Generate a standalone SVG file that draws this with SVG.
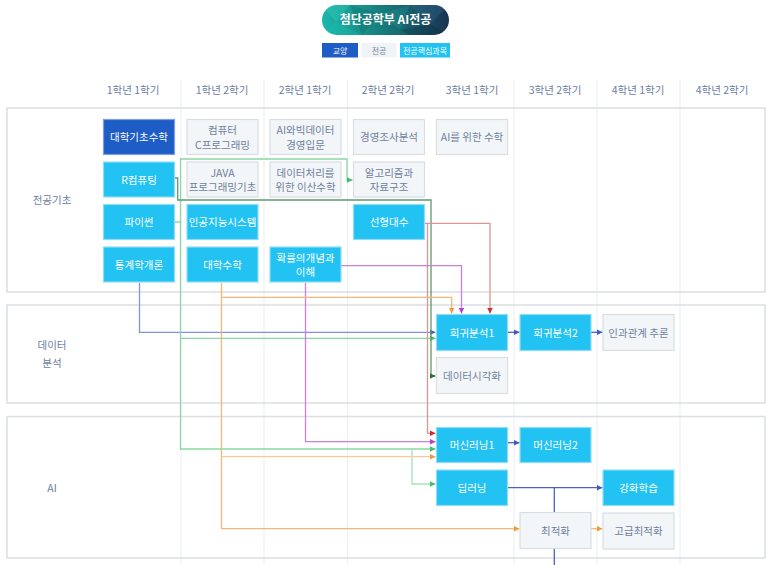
<svg xmlns="http://www.w3.org/2000/svg" width="773" height="565" viewBox="0 0 773 565">
<style>
text{font-family:"Noto Sans CJK KR","Noto Sans",sans-serif;}
.hd{font-size:10.5px;fill:#6c7da6;text-anchor:middle;}
.sec{fill:none;stroke:#dadfe2;stroke-width:1.5;}
.sl{font-size:10.5px;fill:#6c7da6;text-anchor:middle;}
.grid{stroke:#eef0f2;stroke-width:1.2;}
.lt rect{fill:#f3f6f8;stroke:#d9dee3;stroke-width:1.2;}
.lt text{fill:#6f7f9f;font-size:10.5px;text-anchor:middle;}
.cy rect{fill:#22c2f3;stroke:#8fdcf5;stroke-width:1.2;}
.cy text{fill:#fff;font-size:10.5px;text-anchor:middle;}
.db rect{fill:#1e5cc6;stroke:#7d9ee0;stroke-width:1.2;}
.db text{fill:#fff;font-size:10.5px;text-anchor:middle;}
.c{fill:none;stroke-width:1.3;}
</style>
<defs>
<linearGradient id="tg" x1="0" y1="0" x2="1" y2="0">
<stop offset="0" stop-color="#1db7ab"/>
<stop offset="0.45" stop-color="#17807f"/>
<stop offset="1" stop-color="#1b3452"/>
</linearGradient>
<clipPath id="tc"><rect x="322" y="5" width="127" height="30" rx="15"/></clipPath>
<marker id="mBlue" viewBox="0 0 6 6" refX="6" refY="3" markerWidth="6" markerHeight="6" markerUnits="userSpaceOnUse" orient="auto"><path d="M0,0L6,3L0,6z" fill="#3f5bbf"/></marker>
<marker id="mGreen" viewBox="0 0 6 6" refX="6" refY="3" markerWidth="6" markerHeight="6" markerUnits="userSpaceOnUse" orient="auto"><path d="M0,0L6,3L0,6z" fill="#3fbf68"/></marker>
<marker id="mDGreen" viewBox="0 0 6 6" refX="6" refY="3" markerWidth="6" markerHeight="6" markerUnits="userSpaceOnUse" orient="auto"><path d="M0,0L6,3L0,6z" fill="#2f6b3d"/></marker>
<marker id="mRed" viewBox="0 0 6 6" refX="6" refY="3" markerWidth="6" markerHeight="6" markerUnits="userSpaceOnUse" orient="auto"><path d="M0,0L6,3L0,6z" fill="#c8302f"/></marker>
<marker id="mPurple" viewBox="0 0 6 6" refX="6" refY="3" markerWidth="6" markerHeight="6" markerUnits="userSpaceOnUse" orient="auto"><path d="M0,0L6,3L0,6z" fill="#b43fc9"/></marker>
<marker id="mOrange" viewBox="0 0 6 6" refX="6" refY="3" markerWidth="6" markerHeight="6" markerUnits="userSpaceOnUse" orient="auto"><path d="M0,0L6,3L0,6z" fill="#f09a3a"/></marker>
</defs>
<rect width="773" height="565" fill="#fff"/>

<g id="title">
<rect x="322" y="5" width="127" height="30" rx="15" fill="url(#tg)"/>
<g clip-path="url(#tc)" opacity="0.25">
<polygon points="322,5 350,5 336,22" fill="#3fe0c8"/>
<polygon points="350,5 380,14 362,35" fill="#0d5a60"/>
<polygon points="380,14 410,5 400,30" fill="#2aa0a0"/>
<polygon points="410,5 449,5 430,24" fill="#3a6fa8"/>
<polygon points="400,30 430,24 449,35 410,35" fill="#0a2038"/>
<polygon points="336,22 362,35 322,35" fill="#19d0b8"/>
</g>
<text x="385.5" y="24" font-size="12" font-weight="bold" fill="#fff" text-anchor="middle">첨단공학부 AI전공</text>
</g>

<g id="legend">
<rect x="322" y="43" width="36" height="14.5" fill="#1e5cc6"/>
<text x="340" y="53.5" font-size="8" fill="#fff" text-anchor="middle">교양</text>
<rect x="361.5" y="43" width="35" height="14.5" fill="#f1f4f7"/>
<text x="379" y="53.5" font-size="8" fill="#6f7f9f" text-anchor="middle">전공</text>
<rect x="400" y="43" width="50" height="14.5" fill="#22c2f3"/>
<text x="425" y="53.5" font-size="8" fill="#fff" text-anchor="middle">전공핵심과목</text>
</g>

<g id="grid">
<line class="grid" x1="181" y1="80" x2="181" y2="565"/>
<line class="grid" x1="264" y1="80" x2="264" y2="565"/>
<line class="grid" x1="347.5" y1="80" x2="347.5" y2="565"/>
<line class="grid" x1="514" y1="80" x2="514" y2="565"/>
<line class="grid" x1="597" y1="80" x2="597" y2="565"/>
<line class="grid" x1="680" y1="80" x2="680" y2="565"/>
</g>

<g id="headers">
<text class="hd" x="133" y="94">1학년 1학기</text>
<text class="hd" x="222" y="94">1학년 2학기</text>
<text class="hd" x="305" y="94">2학년 1학기</text>
<text class="hd" x="388" y="94">2학년 2학기</text>
<text class="hd" x="472" y="94">3학년 1학기</text>
<text class="hd" x="555" y="94">3학년 2학기</text>
<text class="hd" x="638" y="94">4학년 1학기</text>
<text class="hd" x="722" y="94">4학년 2학기</text>
</g>

<g id="sections">
<rect class="sec" x="7" y="108" width="758" height="184"/>
<rect class="sec" x="7" y="305" width="758" height="98"/>
<rect class="sec" x="7" y="416.5" width="758" height="141.5"/>
<text class="sl" x="52" y="204">전공기초</text>
<text class="sl" x="52" y="349">데이터</text>
<text class="sl" x="52" y="367">분석</text>
<text class="sl" x="52" y="492">AI</text>
</g>

<g id="connectors">
<path class="c" stroke="#7f95d8" d="M139.5,283V332.3H435.5" marker-end="url(#mBlue)"/>
<path class="c" stroke="#8ad8a3" d="M174,222H180.5V159H347V180H352.5" marker-end="url(#mGreen)"/>
<path class="c" stroke="#8ad8a3" d="M180.5,222V449H435.5" marker-end="url(#mGreen)"/>
<path class="c" stroke="#8ad8a3" d="M180.5,338.3H435.5" marker-end="url(#mGreen)"/>
<path class="c" stroke="#a6e2b8" d="M412,449V484H435.5" marker-end="url(#mGreen)"/>
<path class="c" stroke="#5f9870" d="M174,178H177.7V200H431V376H435.5" marker-end="url(#mDGreen)"/>
<path class="c" stroke="#dc9494" d="M424,223.3H490V313.5" marker-end="url(#mRed)"/>
<path class="c" stroke="#dc9494" d="M427.5,223.3V433.3H435.5" marker-end="url(#mRed)"/>
<path class="c" stroke="#c880da" d="M341,265.7H461.5V313.5" marker-end="url(#mPurple)"/>
<path class="c" stroke="#c880da" d="M305.5,283V441.7H435.5" marker-end="url(#mPurple)"/>
<path class="c" stroke="#f4b77a" d="M221.5,283V528.7H519.5" marker-end="url(#mOrange)"/>
<path class="c" stroke="#f4b77a" d="M221.5,297.3H451.7V313.5" marker-end="url(#mOrange)"/>
<path class="c" stroke="#f8c99a" d="M221.5,456.7H435.5" marker-end="url(#mOrange)"/>
<path class="c" stroke="#f4b77a" d="M591,528.7H602.5" marker-end="url(#mOrange)"/>
<path class="c" stroke="#4a63c0" d="M507,332.3H519.5" marker-end="url(#mBlue)"/>
<path class="c" stroke="#4a63c0" d="M591,332.3H602.5" marker-end="url(#mBlue)"/>
<path class="c" stroke="#4a63c0" d="M507,442.7H519.5" marker-end="url(#mBlue)"/>
<path class="c" stroke="#4a63c0" d="M507,487.7H602.5" marker-end="url(#mBlue)"/>
<path class="c" stroke="#4a63c0" d="M554.3,487.7V565"/>
</g>

<g id="n-daehakgicho" class="db"><rect x="103.5" y="119.5" width="71" height="35"/><text x="139" y="141">대학기초수학</text></g>
<g id="n-rcomputing" class="cy"><rect x="103.5" y="162" width="71" height="35"/><text x="139" y="183.5">R컴퓨팅</text></g>
<g id="n-python" class="cy"><rect x="103.5" y="204.5" width="71" height="35"/><text x="139" y="226">파이썬</text></g>
<g id="n-stat" class="cy"><rect x="103.5" y="247" width="71" height="35"/><text x="139" y="268.5">통계학개론</text></g>

<g id="n-cprog" class="lt"><rect x="187" y="119.5" width="71" height="35"/><text x="222.5" y="134">컴퓨터</text><text x="222.5" y="148.5">C프로그래밍</text></g>
<g id="n-java" class="lt"><rect x="187" y="162" width="71" height="35"/><text x="222.5" y="176.5">JAVA</text><text x="222.5" y="191">프로그래밍기초</text></g>
<g id="n-aisys" class="cy"><rect x="187" y="204.5" width="71" height="35"/><text x="222.5" y="226">인공지능시스템</text></g>
<g id="n-unimath" class="cy"><rect x="187" y="247" width="71" height="35"/><text x="222.5" y="268.5">대학수학</text></g>

<g id="n-aibigdata" class="lt"><rect x="270" y="119.5" width="71" height="35"/><text x="305.5" y="134">AI와빅데이터</text><text x="305.5" y="148.5">경영입문</text></g>
<g id="n-discrete" class="lt"><rect x="270" y="162" width="71" height="35"/><text x="305.5" y="176.5">데이터처리를</text><text x="305.5" y="191">위한 이산수학</text></g>
<g id="n-prob" class="cy"><rect x="270" y="247" width="71" height="35"/><text x="305.5" y="261.5">확률의개념과</text><text x="305.5" y="276">이해</text></g>

<g id="n-survey" class="lt"><rect x="353.5" y="119.5" width="71" height="35"/><text x="389" y="141">경영조사분석</text></g>
<g id="n-algo" class="lt"><rect x="353.5" y="162" width="71" height="35"/><text x="389" y="176.5">알고리즘과</text><text x="389" y="191">자료구조</text></g>
<g id="n-linalg" class="cy"><rect x="353.5" y="204.5" width="71" height="35"/><text x="389" y="226">선형대수</text></g>

<g id="n-aimath" class="lt"><rect x="436.5" y="119.5" width="71" height="35"/><text x="472" y="141">AI를 위한 수학</text></g>

<g id="n-reg1" class="cy"><rect x="436.5" y="314.5" width="71" height="36"/><text x="472" y="336.5">회귀분석1</text></g>
<g id="n-reg2" class="cy"><rect x="520" y="314.5" width="71" height="36"/><text x="555.5" y="336.5">회귀분석2</text></g>
<g id="n-causal" class="lt"><rect x="603" y="314.5" width="71" height="36"/><text x="638.5" y="336.5">인과관계 추론</text></g>
<g id="n-viz" class="lt"><rect x="436.5" y="357.5" width="71" height="36"/><text x="472" y="379.5">데이터시각화</text></g>

<g id="n-ml1" class="cy"><rect x="436.5" y="427.5" width="71" height="35"/><text x="472" y="449">머신러닝1</text></g>
<g id="n-ml2" class="cy"><rect x="520" y="427.5" width="71" height="35"/><text x="555.5" y="449">머신러닝2</text></g>
<g id="n-dl" class="cy"><rect x="436.5" y="470" width="71" height="35.5"/><text x="472" y="491.5">딥러닝</text></g>
<g id="n-rl" class="cy"><rect x="603" y="470" width="71" height="35.5"/><text x="638.5" y="491.5">강화학습</text></g>
<g id="n-opt" class="lt"><rect x="520" y="512.5" width="71" height="36"/><text x="555.5" y="534.5">최적화</text></g>
<g id="n-advopt" class="lt"><rect x="603" y="513" width="71" height="36"/><text x="638.5" y="535">고급최적화</text></g>
</svg>
